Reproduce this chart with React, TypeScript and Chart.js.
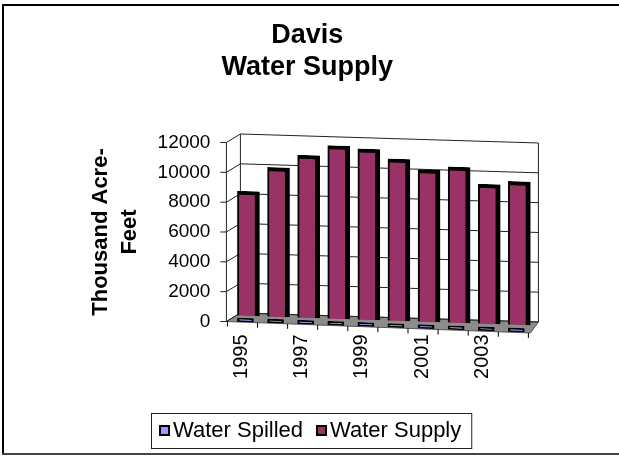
import React, { useEffect, useRef } from "react";
import { Chart, registerables } from "chart.js";

Chart.register(...registerables);

const chartTitle = ["Davis", "Water Supply"];
const yAxisTitle = ["Thousand Acre-", "Feet"];
const years = ["1995", "1996", "1997", "1998", "1999", "2000", "2001", "2002", "2003", "2004"];
const waterSpilled = [250, 250, 250, 250, 250, 250, 250, 250, 250, 250];
const waterSupply = [8350, 10000, 10900, 11600, 11450, 10850, 10200, 10450, 9350, 9600];
const yTicksMax = 12000;
const yTicksStep = 2000;

const FONT = "Arial, 'Liberation Sans', sans-serif";
const SPILLED_COLOR = "#9999FF";
const SUPPLY_COLOR = "#993366";

// oblique projection of the bars onto the 3D floor (depth row per series)
const projPlugin = {
  id: "proj3d",
  beforeDatasetDraw(chart: any, args: any) {
    const { ctx } = chart;
    const x0 = chart.scales.x.getPixelForValue(0);
    ctx.save();
    if (args.index === 1) {
      const k = 0.0333;
      ctx.transform(1, k, 0, 1, 0, -5.5 - k * x0);
    } else {
      const k = 0.0368;
      ctx.transform(1, k, 0, 1, -3, 0.5 - k * x0);
    }
  },
  afterDatasetDraw(chart: any) {
    chart.ctx.restore();
  },
};

const wallPlugin = {
  id: "wall3d",
  beforeDatasetsDraw(chart: any) {
    const { ctx, chartArea } = chart;
    const y = chart.scales.y;
    const ax = chartArea.left - 7;
    const bx = ax + 14;
    const brx = chartArea.right + 4;
    const dy = -8.5;
    const slope = 9 / 298;
    const y0 = y.getPixelForValue(0);
    const frontSlope = 0.0378;
    ctx.save();
    // floor
    const frx = brx - 8;
    ctx.beginPath();
    ctx.moveTo(ax, y0);
    ctx.lineTo(bx, y0 + dy);
    ctx.lineTo(brx, y0 + dy + slope * (brx - bx));
    ctx.lineTo(frx, y0 + frontSlope * (frx - ax));
    ctx.closePath();
    ctx.fillStyle = "#8c8c8c";
    ctx.fill();
    ctx.strokeStyle = "#555";
    ctx.lineWidth = 1;
    ctx.stroke();
    // walls & grid
    ctx.strokeStyle = "#222";
    ctx.lineWidth = 1;
    y.ticks.forEach((t: any) => {
      const yv = y.getPixelForValue(t.value);
      ctx.beginPath();
      ctx.moveTo(ax - 6, yv);
      ctx.lineTo(ax, yv);
      ctx.lineTo(bx, yv + dy);
      ctx.lineTo(brx, yv + dy + slope * (brx - bx));
      ctx.stroke();
    });
    const yTop = y.getPixelForValue(yTicksMax);
    ctx.beginPath();
    ctx.moveTo(ax, y0);
    ctx.lineTo(ax, yTop);
    ctx.moveTo(bx, y0 + dy);
    ctx.lineTo(bx, yTop + dy);
    ctx.moveTo(brx, y0 + dy + slope * (brx - bx));
    ctx.lineTo(brx, yTop + dy + slope * (brx - bx));
    ctx.stroke();
    // ticks along floor front edge
    const n = years.length;
    const w = (chartArea.right - chartArea.left) / n;
    ctx.strokeStyle = "#000";
    for (let i = 0; i <= n; i++) {
      const tx = chartArea.left + i * w - 6;
      const ty = y0 + frontSlope * (tx - ax);
      ctx.beginPath();
      ctx.moveTo(tx, ty);
      ctx.lineTo(tx, ty + 5);
      ctx.stroke();
    }
    ctx.restore();
  },
};

const framePlugin = {
  id: "frameLegend",
  afterDraw(chart: any) {
    const { ctx } = chart;
    ctx.save();
    // outer frame
    ctx.fillStyle = "#000";
    ctx.fillRect(2, 4, 2, 451);
    ctx.fillRect(2, 4, chart.width, 2);
    ctx.fillStyle = "#444";
    ctx.fillRect(2, 453, chart.width, 2);
    // legend
    ctx.font = "22px " + FONT;
    const items = chart.data.datasets.map((ds: any) => ({ label: ds.label, color: ds.backgroundColor }));
    const box = 11;
    const gapBT = 3;
    const gapItems = 13;
    const padL = 8;
    const padR = 10;
    const widths = items.map((it: any) => box + gapBT + ctx.measureText(it.label).width);
    const total = widths.reduce((a: number, b: number) => a + b, 0) + gapItems * (items.length - 1) + padL + padR;
    const cx = chart.width / 2 + 1.5;
    const x0 = Math.round(cx - total / 2);
    const top = chart.height - 43;
    const h = 35;
    ctx.strokeStyle = "#222";
    ctx.lineWidth = 1;
    ctx.strokeRect(x0 + 0.5, top + 0.5, total, h);
    let xx = x0 + padL;
    const mid = top + 18;
    items.forEach((it: any, i: number) => {
      ctx.fillStyle = "#000";
      ctx.fillRect(xx, mid - 6, box, box);
      ctx.fillStyle = it.color;
      ctx.fillRect(xx + 2, mid - 4, box - 4, box - 4);
      ctx.fillStyle = "#000";
      ctx.textBaseline = "middle";
      ctx.textAlign = "left";
      ctx.fillText(it.label, xx + box + gapBT, mid);
      xx += widths[i] + gapItems;
    });
    ctx.restore();
  },
};

export default function App() {
  const ref = useRef<HTMLCanvasElement | null>(null);
  useEffect(() => {
    if (!ref.current) return;
    const chart = new Chart(ref.current, {
      type: "bar",
      data: {
        labels: years,
        datasets: [
          {
            label: "Water Spilled",
            data: waterSpilled,
            backgroundColor: SPILLED_COLOR,
            borderColor: "#000",
            borderWidth: 2,
            borderSkipped: false,
            barThickness: 16,
            grouped: false,
          } as any,
          {
            label: "Water Supply",
            data: waterSupply,
            backgroundColor: SUPPLY_COLOR,
            borderColor: "#000",
            borderWidth: { left: 2, top: 4, right: 5, bottom: 0 },
            borderSkipped: false,
            barThickness: 22,
            grouped: false,
          } as any,
        ],
      },
      options: {
        animation: false,
        responsive: false,
        events: [],
        layout: { padding: { left: 80, right: 84.6, top: 0, bottom: 64.5 } },
        plugins: {
          legend: { display: false },
          tooltip: { enabled: false },
          title: {
            display: true,
            text: chartTitle,
            color: "#000",
            font: { family: FONT, size: 27, weight: "bold", lineHeight: 1.185 },
            padding: { top: 20, bottom: 58.5 },
          },
        },
        scales: {
          x: {
            grid: { display: false, drawTicks: false },
            border: { display: false },
            ticks: {
              color: "#000",
              font: { family: FONT, size: 20 },
              maxRotation: 90,
              minRotation: 90,
              autoSkip: false,
              padding: 13,
              labelOffset: -7,
              callback: function (this: any, value: any, index: number) {
                return index % 2 === 0 ? this.getLabelForValue(value) : "";
              },
            },
            afterFit: (s: any) => {
              s.height = 70;
            },
          },
          y: {
            min: 0,
            max: yTicksMax,
            grid: { display: false, drawTicks: false },
            border: { display: false },
            ticks: {
              stepSize: yTicksStep,
              color: "#000",
              font: { family: FONT, size: 19 },
              padding: 23,
              callback: (v: any) => String(v),
            },
            title: {
              display: true,
              text: yAxisTitle,
              color: "#000",
              font: { family: FONT, size: 22, weight: "bold", lineHeight: 1.32 },
              padding: { top: 6, bottom: 0 },
            },
            afterFit: (s: any) => {
              s.width = 153.4;
            },
          },
        },
      },
      plugins: [wallPlugin, projPlugin, framePlugin],
    });
    return () => chart.destroy();
  }, []);
  return (
    <div style={{ position: "fixed", left: 0, top: 0, width: 619, height: 456, background: "#fff" }}>
      <canvas ref={ref} width={619} height={456} style={{ display: "block", width: 619, height: 456 }} />
    </div>
  );
}
